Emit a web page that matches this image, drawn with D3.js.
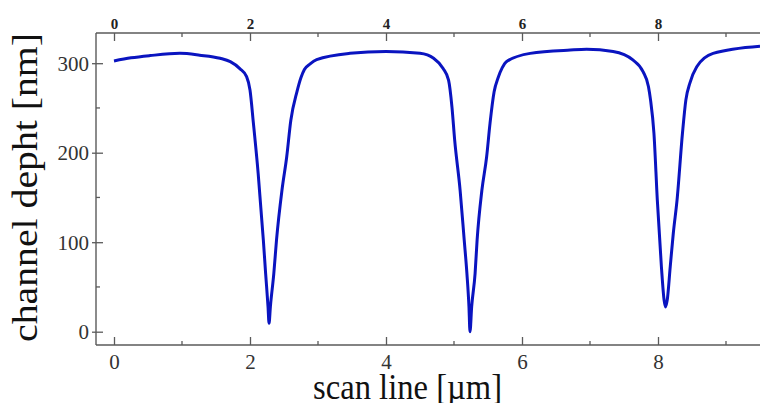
<!DOCTYPE html>
<html>
<head>
<meta charset="utf-8">
<script src="https://cdn.jsdelivr.net/npm/d3@7"></script>
<style>
  body { margin: 0; background: #fff; }
  svg { display: block; }
</style>
</head>
<body>
<div id="chart"></div>
<script>
// scan position in um
var scanX = [
  0, 0.25, 0.53, 0.97, 1.26, 1.56, 1.71, 1.85, 1.95, 2.0, 2.05, 2.12, 2.196,
  2.23, 2.265, 2.28, 2.30, 2.35, 2.39, 2.47, 2.54, 2.60, 2.69, 2.75, 2.80,
  2.88, 2.98, 3.47, 4.0, 4.5, 4.70, 4.84, 4.92, 4.97, 5.01, 5.09, 5.15, 5.19,
  5.22, 5.235, 5.26, 5.31, 5.34, 5.41, 5.48, 5.53, 5.59, 5.65, 5.71, 5.77,
  6.12, 6.71, 6.95, 7.34, 7.63, 7.78, 7.86, 7.89, 7.94, 7.99, 8.05, 8.09,
  8.11, 8.135, 8.18, 8.225, 8.28, 8.36, 8.41, 8.47, 8.57, 8.81, 9.5
];
// channel depth in nm
var depth = [
  302.5, 306, 308.5, 311, 309, 305.5, 301.7, 294, 285, 270, 233, 177, 102.5,
  65, 28, 9.4, 28, 65, 102.5, 158, 195.5, 236, 268, 284, 293,
  299, 304, 311, 313, 311, 305.5, 294, 281, 251, 214, 158, 102.5, 65,
  28, 0, 28, 65, 102.5, 158, 195.5, 233, 268, 284, 295, 301.7,
  311, 314.7, 315.5, 313, 303.6, 290.5, 273.7, 259, 222, 147, 72.6, 35,
  27.6, 35, 72.6, 110, 147, 222, 259, 278, 296, 311, 319
];
var xTicks = [0, 2, 4, 6, 8];
var xMinorTicks = [1, 3, 5, 7, 9];
var yTicks = [0, 100, 200, 300];
var yMinorTicks = [50, 150, 250];

var chartWidth = 760;
var chartHeight = 403;
var plotLeft = 96, plotTop = 33, plotBottom = 345;

var svg = d3.select('#chart')
    .append('svg')
    .attr('width', chartWidth)
    .attr('height', chartHeight);

// Scales
var scaleX = d3.scaleLinear()
    .domain([0, 9.5])
    .range([114, 760]);

var scaleY = d3.scaleLinear()
    .domain([0, 300])
    .range([331.7, 63.2]);

var axisColor = '#5a5a5a';
var serif = '"Liberation Serif", "Times New Roman", serif';

// Frame lines
svg.append('line')
    .attr('x1', plotLeft).attr('x2', chartWidth)
    .attr('y1', plotTop).attr('y2', plotTop)
    .attr('stroke', axisColor).attr('stroke-width', 1.4);
svg.append('line')
    .attr('x1', plotLeft).attr('x2', chartWidth)
    .attr('y1', plotBottom).attr('y2', plotBottom)
    .attr('stroke', axisColor).attr('stroke-width', 1.4);
svg.append('line')
    .attr('x1', plotLeft).attr('x2', plotLeft)
    .attr('y1', plotTop).attr('y2', plotBottom)
    .attr('stroke', axisColor).attr('stroke-width', 1.4);

// Axes, ticks drawn inwards
var axisBottom = d3.axisBottom(scaleX)
    .tickValues(xTicks)
    .tickSize(-8)
    .tickFormat(d3.format('d'));

var gB = svg.append('g')
    .attr('transform', 'translate(0,' + plotBottom + ')')
    .call(axisBottom);

var axisTop = d3.axisTop(scaleX)
    .tickValues(xTicks)
    .tickSize(-8)
    .tickFormat(d3.format('d'));

var gT = svg.append('g')
    .attr('transform', 'translate(0,' + plotTop + ')')
    .call(axisTop);

var axisLeft = d3.axisLeft(scaleY)
    .tickValues(yTicks)
    .tickSize(4)
    .tickPadding(4);

var gL = svg.append('g')
    .attr('transform', 'translate(' + plotLeft + ',0)')
    .call(axisLeft);

[gB, gT, gL].forEach(function(g) {
  g.select('.domain').remove();
  g.selectAll('.tick line')
      .attr('stroke', axisColor)
      .attr('stroke-width', 1.3);
  g.selectAll('.tick text')
      .attr('font-family', serif)
      .attr('fill', '#333');
});

// left ticks cross the axis line
gL.selectAll('.tick line').attr('x1', 7);
gL.selectAll('.tick text')
    .attr('font-size', 21)
    .attr('x', -7)
    .attr('dy', '0.34em');
gB.selectAll('.tick text')
    .attr('font-size', 21)
    .attr('y', 9)
    .attr('dy', '0.71em');
gT.selectAll('.tick text')
    .attr('font-size', 15)
    .attr('font-weight', 'bold')
    .attr('fill', '#222')
    .attr('y', -4)
    .attr('dy', 0);

// Minor ticks
svg.append('g').selectAll('line')
    .data(xMinorTicks)
    .enter()
    .append('line')
    .attr('x1', function(d) { return scaleX(d); })
    .attr('x2', function(d) { return scaleX(d); })
    .attr('y1', plotBottom).attr('y2', plotBottom - 4)
    .attr('stroke', axisColor).attr('stroke-width', 1.3);
svg.append('g').selectAll('line')
    .data(xMinorTicks)
    .enter()
    .append('line')
    .attr('x1', function(d) { return scaleX(d); })
    .attr('x2', function(d) { return scaleX(d); })
    .attr('y1', plotTop).attr('y2', plotTop + 4)
    .attr('stroke', axisColor).attr('stroke-width', 1.3);
svg.append('g').selectAll('line')
    .data(yMinorTicks)
    .enter()
    .append('line')
    .attr('x1', plotLeft).attr('x2', plotLeft + 4)
    .attr('y1', function(d) { return scaleY(d); })
    .attr('y2', function(d) { return scaleY(d); })
    .attr('stroke', axisColor).attr('stroke-width', 1.3);

// Profile line
var points = scanX.map(function(x, i) { return [x, depth[i]]; });

var line = d3.line()
    .x(function(d) { return scaleX(d[0]); })
    .y(function(d) { return scaleY(d[1]); })
    .curve(d3.curveMonotoneX);

svg.append('path')
    .datum(points)
    .attr('d', line)
    .attr('fill', 'none')
    .attr('stroke', '#0a14c0')
    .attr('stroke-width', 3)
    .attr('stroke-linejoin', 'round');

// Titles
svg.append('text')
    .attr('x', 407.5)
    .attr('y', 399)
    .attr('text-anchor', 'middle')
    .attr('font-family', serif)
    .attr('font-size', 36)
    .attr('fill', '#111')
    .attr('textLength', 189)
    .attr('lengthAdjust', 'spacingAndGlyphs')
    .text('scan line [\u00b5m]');

svg.append('text')
    .attr('transform', 'translate(37,187.5) rotate(-90)')
    .attr('text-anchor', 'middle')
    .attr('font-family', serif)
    .attr('font-size', 35)
    .attr('fill', '#111')
    .attr('textLength', 309)
    .attr('lengthAdjust', 'spacingAndGlyphs')
    .text('channel depht [nm]');
</script>
</body>
</html>
